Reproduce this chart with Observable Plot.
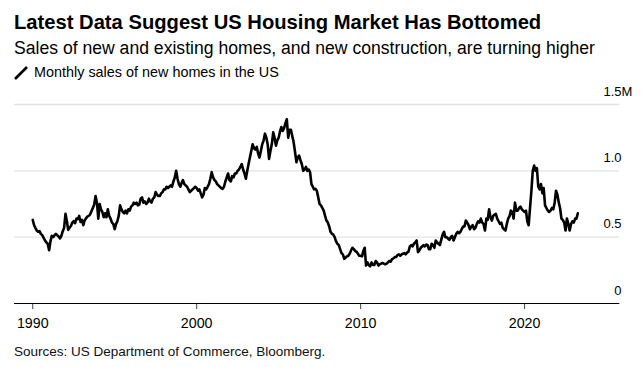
<!DOCTYPE html>
<html>
<head>
<meta charset="utf-8">
<script src="https://cdn.jsdelivr.net/npm/d3@7"></script>
<script src="https://cdn.jsdelivr.net/npm/@observablehq/plot@0.6"></script>
<style>
  html, body { margin: 0; padding: 0; background: #fff; }
  body { width: 642px; height: 367px; position: relative; overflow: hidden;
         font-family: "Liberation Sans", Arial, sans-serif; color: #000; }
  .t { position: absolute; left: 14px; white-space: nowrap; }
  #title { top: 10.3px; font-size: 20.2px; line-height: 24px; font-weight: bold; }
  #subtitle { top: 36.9px; font-size: 17.6px; line-height: 22px; }
  #legend { top: 63px; left: 34px; font-size: 14.4px; line-height: 18px; }
  #legicon { position: absolute; left: 14px; top: 66px; }
  #source { top: 343px; font-size: 13.5px; line-height: 18px; color: #111; }
  #chart { position: absolute; left: 0; top: 84px; }
</style>
</head>
<body>
<div id="title" class="t">Latest Data Suggest US Housing Market Has Bottomed</div>
<div id="subtitle" class="t">Sales of new and existing homes, and new construction, are turning higher</div>
<svg id="legicon" width="14" height="14"><line x1="1" y1="13" x2="13" y2="1" stroke="#000" stroke-width="2.6"/></svg>
<div id="legend" class="t">Monthly sales of new homes in the US</div>
<div id="chart"></div>
<div id="source" class="t">Sources: US Department of Commerce, Bloomberg.</div>
<script>
// Monthly US new home sales, thousands (seasonally adjusted annual rate), Jan 1990 - Apr 2023
const startYear = 1990;
const sales1990s = [
  [630, 590, 570, 550, 540, 545, 525, 515, 495, 475, 460, 450],
  [401, 470, 510, 500, 515, 525, 515, 505, 490, 510, 545, 570],
  [676, 620, 555, 570, 585, 610, 620, 605, 640, 635, 660, 615],
  [630, 590, 625, 640, 655, 660, 670, 695, 720, 745, 810, 760],
  [640, 750, 710, 690, 650, 680, 650, 710, 660, 640, 610, 600],
  [560, 600, 620, 660, 740, 710, 690, 680, 700, 680, 710, 700],
  [730, 740, 760, 750, 760, 740, 745, 790, 800, 760, 770, 750],
  [760, 790, 770, 760, 790, 800, 840, 820, 810, 810, 830, 840],
  [860, 860, 880, 870, 880, 890, 880, 920, 950, 1000, 940, 900],
  [880, 910, 930, 900, 890, 880, 860, 840, 850, 860, 870, 880]
];
const sales2000s = [
  [870, 850, 860, 830, 800, 820, 870, 860, 880, 900, 940, 990],
  [950, 930, 920, 900, 890, 880, 870, 864, 880, 920, 950, 980],
  [930, 920, 960, 950, 980, 980, 1000, 1010, 1030, 1050, 1010, 980],
  [940, 1000, 1050, 1100, 1150, 1200, 1170, 1160, 1180, 1130, 1100, 1150],
  [1200, 1230, 1280, 1250, 1200, 1090, 1150, 1200, 1290, 1250, 1190, 1230],
  [1250, 1300, 1330, 1300, 1320, 1360, 1389, 1250, 1310, 1310, 1260, 1215],
  [1140, 1065, 1100, 1115, 1080, 1050, 1000, 1010, 1030, 1000, 1010, 990],
  [900, 880, 860, 864, 850, 800, 750, 740, 720, 700, 660, 625],
  [610, 580, 540, 525, 520, 500, 470, 450, 440, 410, 380, 370],
  [337, 345, 355, 360, 375, 400, 420, 410, 395, 390, 375, 360]
];
const sales2010s = [
  [360, 355, 395, 420, 286, 310, 290, 280, 310, 290, 290, 320],
  [310, 286, 295, 300, 305, 300, 295, 300, 310, 320, 315, 335],
  [340, 350, 350, 365, 370, 360, 370, 375, 380, 370, 385, 390],
  [430, 440, 430, 450, 460, 475, 387, 400, 420, 430, 440, 430],
  [445, 440, 410, 410, 450, 440, 420, 475, 460, 450, 440, 480],
  [520, 540, 500, 500, 490, 480, 500, 510, 475, 500, 525, 540],
  [530, 540, 560, 580, 580, 625, 610, 590, 560, 580, 590, 560],
  [570, 600, 620, 610, 640, 610, 600, 550, 640, 630, 710, 650],
  [625, 660, 670, 675, 640, 620, 600, 610, 570, 560, 550, 600],
  [640, 660, 700, 690, 640, 760, 700, 700, 720, 730, 710, 700]
];
const sales2020s = [
  [690, 700, 620, 590, 720, 850, 1000, 1040, 1000, 1020, 880, 860],
  [900, 830, 870, 740, 720, 700, 690, 700, 720, 710, 760, 850],
  [820, 760, 720, 640, 630, 610, 550, 640, 600, 550, 600, 620],
  [610, 640, 640, 680]
];

const yTicks = [0, 0.5, 1.0, 1.5];
const yTickLabels = ["0", "0.5", "1.0", "1.5"];
const xTickYears = [1990, 2000, 2010, 2020];
const xDomain = [new Date(1988, 10, 21), new Date(2025, 9, 22)];

const rows = [];
[...sales1990s, ...sales2000s, ...sales2010s, ...sales2020s].forEach((yr, i) => {
  yr.forEach((v, m) => rows.push({date: new Date(startYear + i, m, 1), value: v / 1000}));
});

const chart = Plot.plot({
  width: 642,
  height: 251,
  marginTop: 20,
  marginBottom: 32,
  marginLeft: 14,
  marginRight: 22.7,
  style: {fontFamily: "'Liberation Sans', Arial, sans-serif", background: "transparent"},
  x: {type: "time", domain: xDomain},
  y: {domain: [0, 1.5], axis: null},
  marks: [
    Plot.ruleY(yTicks.filter(d => d > 0), {stroke: "#e3e3e3", strokeWidth: 1.3}),
    Plot.axisX({
      ticks: xTickYears.map(y => new Date(y, 0, 1)),
      tickFormat: d => String(d.getFullYear()),
      tickSize: 6,
      tickPadding: 8.5,
      stroke: "#444",
      fill: "#000",
      fontSize: 14.25,
      label: null
    }),
    Plot.ruleY([0], {stroke: "#000", strokeWidth: 1.2}),
    Plot.lineY(rows, {x: "date", y: "value", stroke: "#000", strokeWidth: 2.6, strokeLinejoin: "round"}),
    Plot.text(yTicks, {
      y: d => d,
      text: (d, i) => yTickLabels[i],
      frameAnchor: "right",
      textAnchor: "end",
      dx: 1.7,
      dy: -13,
      fontSize: 13,
      fill: "#000"
    }),
    Plot.text([1.5], {
      y: d => d,
      text: () => "M",
      frameAnchor: "right",
      textAnchor: "start",
      dx: 1.7,
      dy: -13,
      fontSize: 13,
      fill: "#000"
    })
  ]
});
document.getElementById("chart").appendChild(chart);
</script>
</body>
</html>
